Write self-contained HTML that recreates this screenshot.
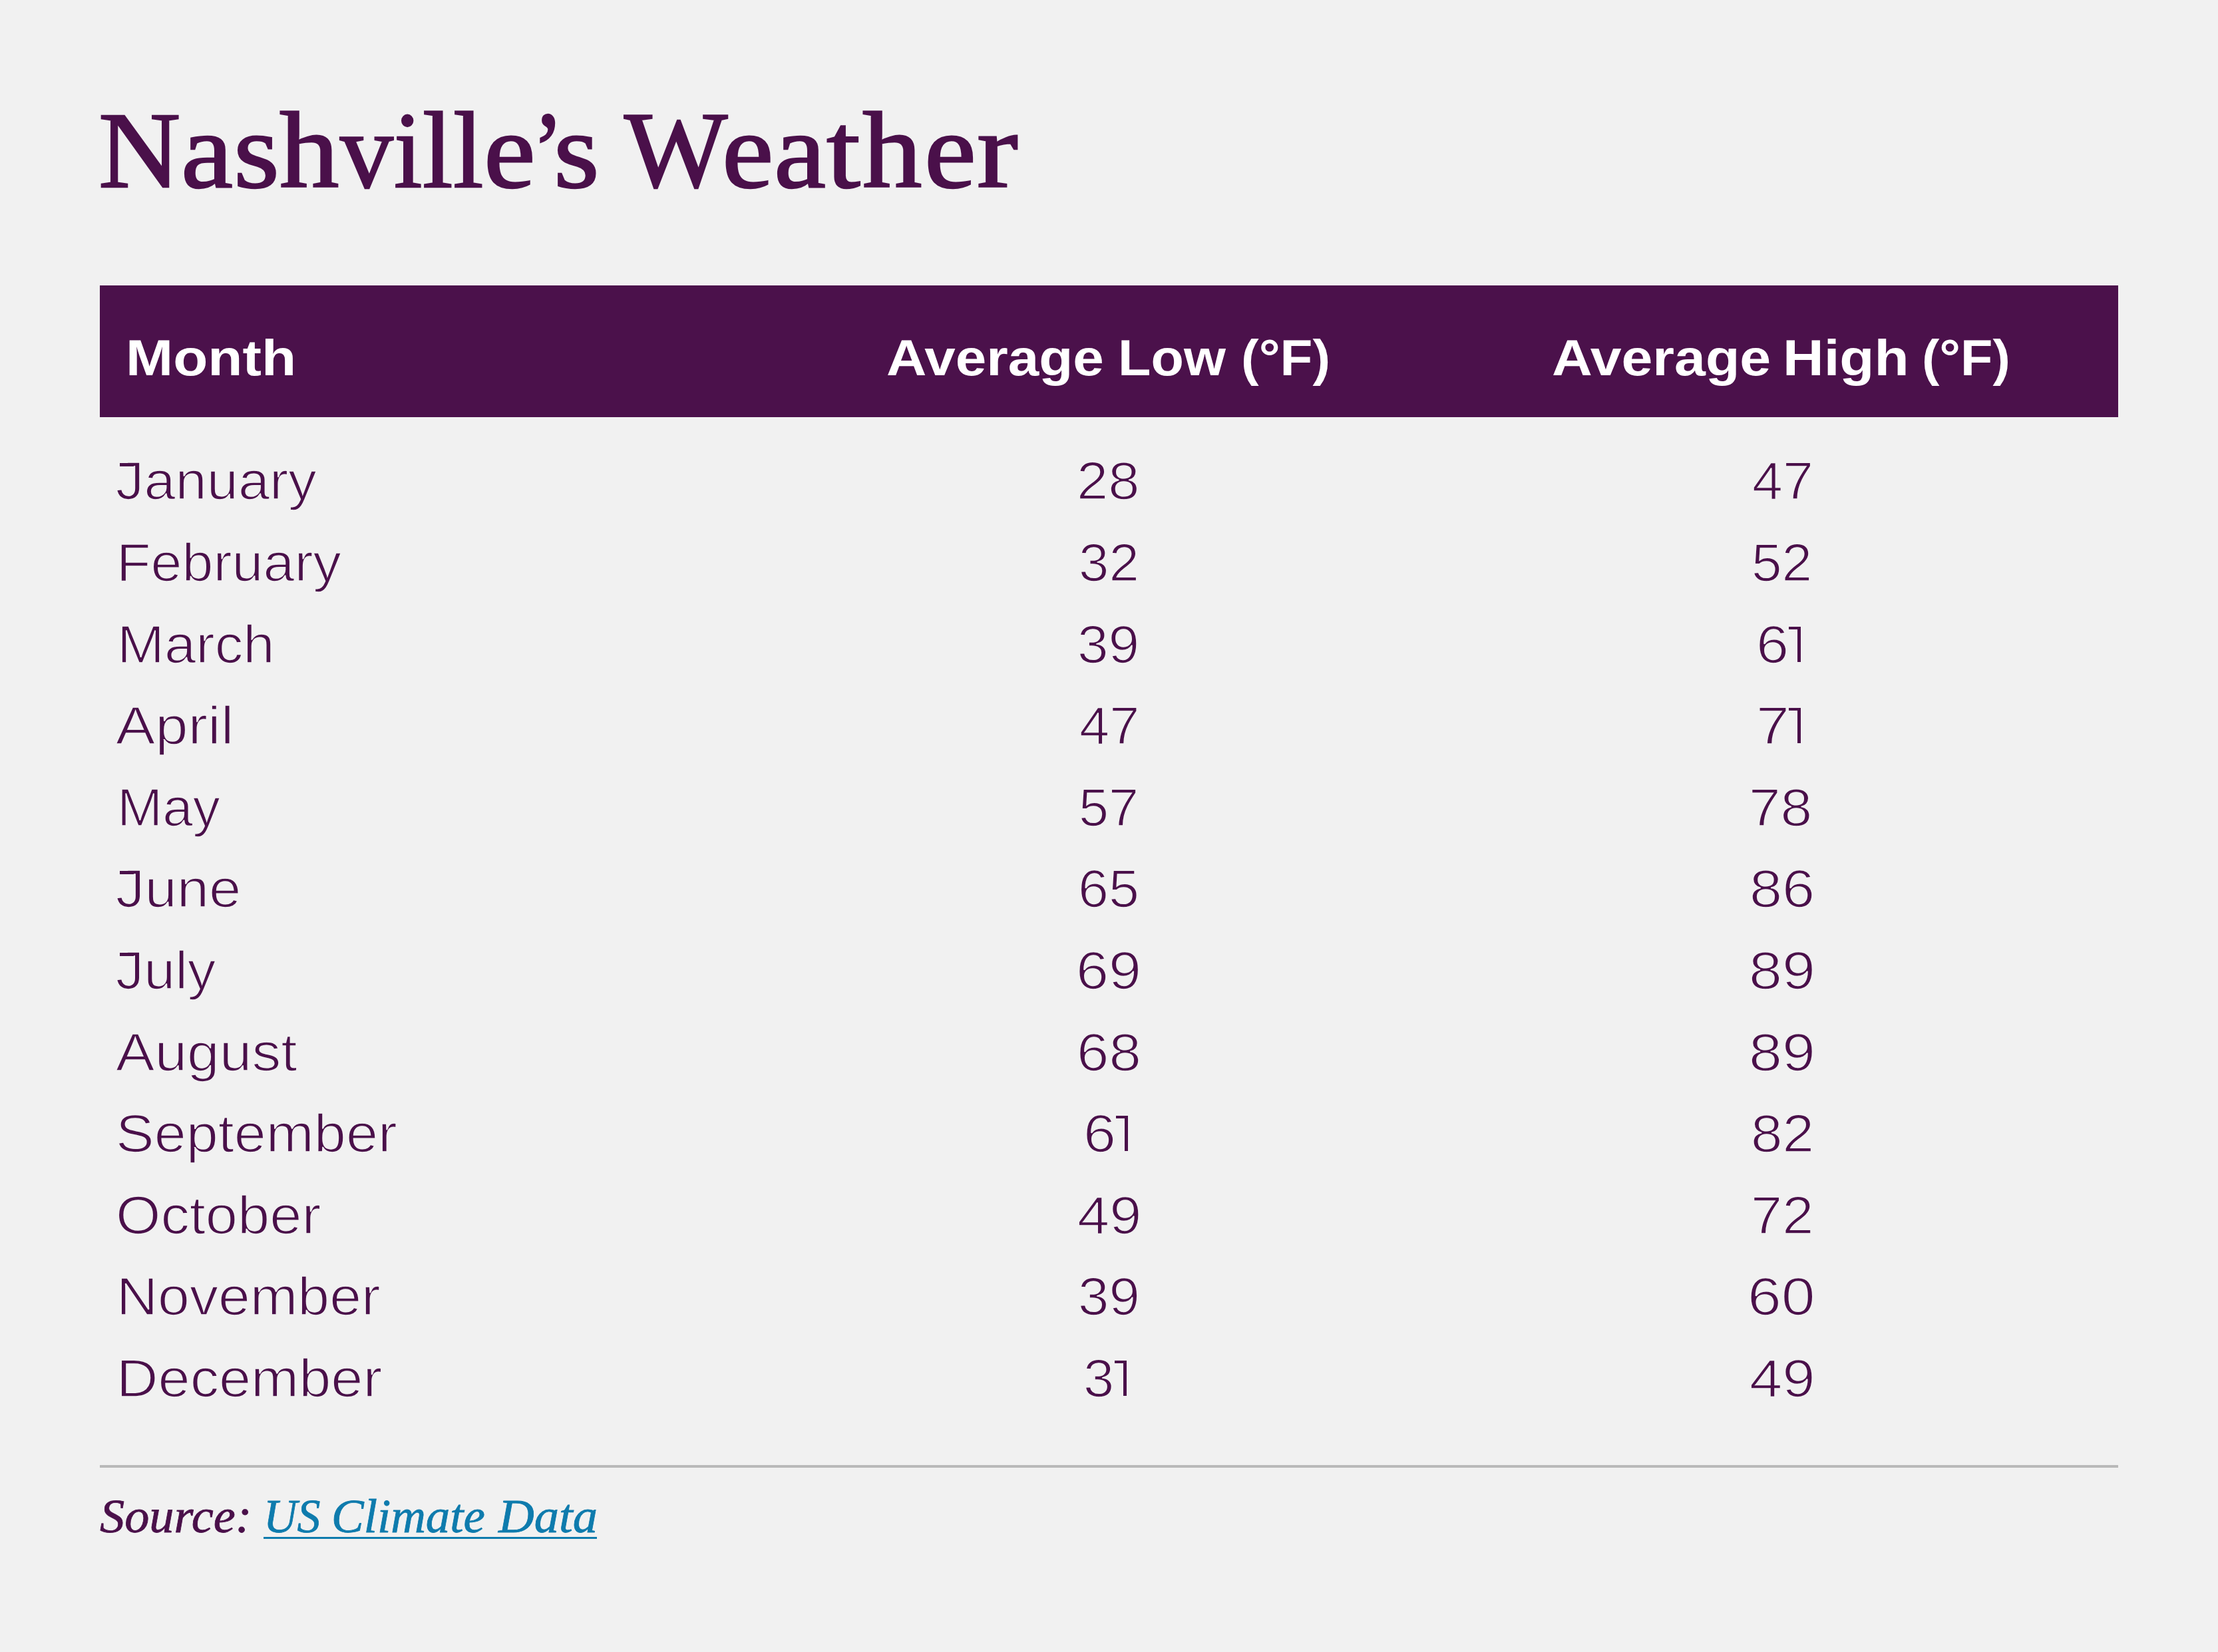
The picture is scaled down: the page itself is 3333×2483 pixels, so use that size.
<!DOCTYPE html>
<html lang="en">
<head>
<meta charset="utf-8">
<title>Nashville’s Weather</title>
<style>
html,body{margin:0;padding:0}
body{width:3333px;height:2483px;background:#f1f1f1;position:relative;overflow:hidden;font-family:"Liberation Sans",sans-serif}
.x{position:absolute;white-space:nowrap;line-height:1;transform-origin:0 0;margin:0;padding:0}
.sans{font-family:"Liberation Sans",sans-serif;font-weight:400}
.sansb{font-family:"Liberation Sans",sans-serif;font-weight:700}
.serif{font-family:"Liberation Serif",serif;font-weight:400}
.serifi{font-family:"Liberation Serif",serif;font-style:italic;font-weight:400}
#bar{position:absolute;left:150px;top:429px;width:3033px;height:198px;background:#4b114b}
#rule{position:absolute;left:150px;top:2202px;width:3033px;height:4px;background:#b9b9b9}
#ul{position:absolute;left:395.7px;top:2310px;width:501.8px;height:3.3px;background:#0e7bad}
a{color:inherit;text-decoration:none}
h1,p{margin:0;padding:0;font-size:0;line-height:0;height:0}
.thead,.tr{height:0;font-size:0;line-height:0}
.jb{position:absolute;left:179.8px;width:21px;height:5.2px;background:#4a104a}
.one{position:absolute;box-sizing:border-box;border-top:4.6px solid #4a104a;border-right:5.6px solid #4a104a;color:transparent;font-size:8px;line-height:1;overflow:hidden}
</style>
</head>
<body>
<div id="bar"></div>
<div id="rule"></div>
<div id="ul"></div>
<h1><span class="x serif" id="t0" style="left:148.35px;top:143.76px;font-size:163.51px;color:#4a104a;transform:scaleX(1.0443);-webkit-text-stroke:2.40px #4a104a;">N</span><span class="x serif" id="t1" style="left:272.16px;top:143.76px;font-size:163.51px;color:#4a104a;transform:scaleX(1.0745);-webkit-text-stroke:2.40px #4a104a;">a</span><span class="x serif" id="t2" style="left:350.53px;top:143.76px;font-size:163.51px;color:#4a104a;transform:scaleX(1.0826);-webkit-text-stroke:2.40px #4a104a;">s</span><span class="x serif" id="t3" style="left:419.95px;top:143.76px;font-size:163.51px;color:#4a104a;transform:scaleX(1.0940);-webkit-text-stroke:2.40px #4a104a;">h</span><span class="x serif" id="t4" style="left:511.46px;top:143.76px;font-size:163.51px;color:#4a104a;transform:scaleX(0.9767);-webkit-text-stroke:2.40px #4a104a;">v</span><span class="x serif" id="t5" style="left:592.10px;top:143.76px;font-size:163.51px;color:#4a104a;transform:scaleX(0.9348);-webkit-text-stroke:2.40px #4a104a;">i</span><span class="x serif" id="t6" style="left:635.00px;top:143.76px;font-size:163.51px;color:#4a104a;transform:scaleX(1.0023);-webkit-text-stroke:2.40px #4a104a;">l</span><span class="x serif" id="t7" style="left:680.50px;top:143.76px;font-size:163.51px;color:#4a104a;transform:scaleX(1.0023);-webkit-text-stroke:2.40px #4a104a;">l</span><span class="x serif" id="t8" style="left:727.13px;top:143.76px;font-size:163.51px;color:#4a104a;transform:scaleX(1.0706);-webkit-text-stroke:2.40px #4a104a;">e</span><span class="x serif" id="t9" style="left:799.91px;top:143.76px;font-size:163.51px;color:#4a104a;transform:scaleX(0.8564);-webkit-text-stroke:2.40px #4a104a;">’</span><span class="x serif" id="t10" style="left:831.64px;top:143.76px;font-size:163.51px;color:#4a104a;transform:scaleX(1.0786);-webkit-text-stroke:2.40px #4a104a;">s</span> <span class="x serif" id="t11" style="left:938.06px;top:143.76px;font-size:163.51px;color:#4a104a;transform:scaleX(1.0073);-webkit-text-stroke:2.40px #4a104a;">W</span><span class="x serif" id="t12" style="left:1084.69px;top:143.76px;font-size:163.51px;color:#4a104a;transform:scaleX(1.0667);-webkit-text-stroke:2.40px #4a104a;">e</span><span class="x serif" id="t13" style="left:1163.22px;top:143.76px;font-size:163.51px;color:#4a104a;transform:scaleX(1.0745);-webkit-text-stroke:2.40px #4a104a;">a</span><span class="x serif" id="t14" style="left:1242.00px;top:143.76px;font-size:163.51px;color:#4a104a;transform:scaleX(1.1183);-webkit-text-stroke:2.40px #4a104a;">t</span><span class="x serif" id="t15" style="left:1296.00px;top:143.76px;font-size:163.51px;color:#4a104a;transform:scaleX(1.0940);-webkit-text-stroke:2.40px #4a104a;">h</span><span class="x serif" id="t16" style="left:1389.18px;top:143.76px;font-size:163.51px;color:#4a104a;transform:scaleX(1.0728);-webkit-text-stroke:2.40px #4a104a;">e</span><span class="x serif" id="t17" style="left:1467.82px;top:143.76px;font-size:163.51px;color:#4a104a;transform:scaleX(1.1321);-webkit-text-stroke:2.40px #4a104a;">r</span></h1>
<div class="thead"><span class="x sansb" id="h1" style="left:189.04px;top:499.21px;font-size:76.89px;color:#ffffff;transform:scaleX(1.1108);">Month</span> <span class="x sansb" id="h2a" style="left:1331.77px;top:499.21px;font-size:76.89px;color:#ffffff;transform:scaleX(1.0871);">Average</span> <span class="x sansb" id="h2b" style="left:1679.91px;top:499.21px;font-size:76.89px;color:#ffffff;transform:scaleX(1.0530);">Low</span> <span class="x sansb" id="h2c" style="left:1864.85px;top:499.21px;font-size:76.89px;color:#ffffff;transform:scaleX(1.0405);">(°F)</span> <span class="x sansb" id="h3a" style="left:2331.85px;top:499.21px;font-size:76.89px;color:#ffffff;transform:scaleX(1.0953);">Average</span> <span class="x sansb" id="h3b" style="left:2678.93px;top:499.21px;font-size:76.89px;color:#ffffff;transform:scaleX(1.1105);">High</span> <span class="x sansb" id="h3c" style="left:2888.34px;top:499.21px;font-size:76.89px;color:#ffffff;transform:scaleX(1.0299);">(°F)</span></div>
<div class="tr"><span class="x sans" id="m0" style="left:173.80px;top:683.42px;font-size:79.07px;color:#4a104a;transform:scaleX(1.0727);-webkit-text-stroke:1.70px #f1f1f1;">January</span><span class="jb" style="top:695.80px"></span> <span class="x sans" id="l0" style="left:1618.22px;top:683.42px;font-size:79.07px;color:#4a104a;transform:scaleX(1.0730);-webkit-text-stroke:1.70px #f1f1f1;">28</span> <span class="x sans" id="g0" style="left:2632.87px;top:683.42px;font-size:79.07px;color:#4a104a;transform:scaleX(1.0446);-webkit-text-stroke:1.70px #f1f1f1;">47</span></div>
<div class="tr"><span class="x sans" id="m1" style="left:175.40px;top:806.02px;font-size:79.07px;color:#4a104a;transform:scaleX(1.0675);-webkit-text-stroke:1.70px #f1f1f1;">February</span> <span class="x sans" id="l1" style="left:1620.85px;top:806.02px;font-size:79.07px;color:#4a104a;transform:scaleX(1.0325);-webkit-text-stroke:1.70px #f1f1f1;">32</span> <span class="x sans" id="g1" style="left:2631.85px;top:806.02px;font-size:79.07px;color:#4a104a;transform:scaleX(1.0375);-webkit-text-stroke:1.70px #f1f1f1;">52</span></div>
<div class="tr"><span class="x sans" id="m2" style="left:176.14px;top:928.62px;font-size:79.07px;color:#4a104a;transform:scaleX(1.0776);-webkit-text-stroke:1.70px #f1f1f1;">March</span> <span class="x sans" id="l2" style="left:1619.20px;top:928.62px;font-size:79.07px;color:#4a104a;transform:scaleX(1.0602);-webkit-text-stroke:1.70px #f1f1f1;">39</span> <span class="x sans" id="g2_0" style="left:2639.38px;top:928.62px;font-size:79.07px;color:#4a104a;transform:scaleX(1.1150);-webkit-text-stroke:1.70px #f1f1f1;">6</span><span class="one" id="g2_1" style="left:2688.00px;top:941.70px;width:18.20px;height:53.00px">1</span></div>
<div class="tr"><span class="x sans" id="m3" style="left:173.78px;top:1051.22px;font-size:79.07px;color:#4a104a;transform:scaleX(1.1218);-webkit-text-stroke:1.70px #f1f1f1;">April</span> <span class="x sans" id="l3" style="left:1621.94px;top:1051.22px;font-size:79.07px;color:#4a104a;transform:scaleX(1.0268);-webkit-text-stroke:1.70px #f1f1f1;">47</span> <span class="x sans" id="g3_0" style="left:2639.31px;top:1051.22px;font-size:79.07px;color:#4a104a;transform:scaleX(1.1342);-webkit-text-stroke:1.70px #f1f1f1;">7</span><span class="one" id="g3_1" style="left:2688.00px;top:1064.30px;width:18.20px;height:53.00px">1</span></div>
<div class="tr"><span class="x sans" id="m4" style="left:176.42px;top:1173.82px;font-size:79.07px;color:#4a104a;transform:scaleX(1.0367);-webkit-text-stroke:1.70px #f1f1f1;">May</span> <span class="x sans" id="l4" style="left:1621.38px;top:1173.82px;font-size:79.07px;color:#4a104a;transform:scaleX(1.0253);-webkit-text-stroke:1.70px #f1f1f1;">57</span> <span class="x sans" id="g4" style="left:2628.09px;top:1173.82px;font-size:79.07px;color:#4a104a;transform:scaleX(1.0828);-webkit-text-stroke:1.70px #f1f1f1;">78</span></div>
<div class="tr"><span class="x sans" id="m5" style="left:173.73px;top:1296.42px;font-size:79.07px;color:#4a104a;transform:scaleX(1.0982);-webkit-text-stroke:1.70px #f1f1f1;">June</span><span class="jb" style="top:1308.80px"></span> <span class="x sans" id="l5" style="left:1620.36px;top:1296.42px;font-size:79.07px;color:#4a104a;transform:scaleX(1.0449);-webkit-text-stroke:1.70px #f1f1f1;">65</span> <span class="x sans" id="g5" style="left:2629.03px;top:1296.42px;font-size:79.07px;color:#4a104a;transform:scaleX(1.1162);-webkit-text-stroke:1.70px #f1f1f1;">86</span></div>
<div class="tr"><span class="x sans" id="m6" style="left:173.85px;top:1419.02px;font-size:79.07px;color:#4a104a;transform:scaleX(1.0676);-webkit-text-stroke:1.70px #f1f1f1;">July</span><span class="jb" style="top:1431.80px"></span> <span class="x sans" id="l6" style="left:1617.43px;top:1419.02px;font-size:79.07px;color:#4a104a;transform:scaleX(1.1139);-webkit-text-stroke:1.70px #f1f1f1;">69</span> <span class="x sans" id="g6" style="left:2627.98px;top:1419.02px;font-size:79.07px;color:#4a104a;transform:scaleX(1.1354);-webkit-text-stroke:1.70px #f1f1f1;">89</span></div>
<div class="tr"><span class="x sans" id="m7" style="left:173.81px;top:1541.62px;font-size:79.07px;color:#4a104a;transform:scaleX(1.1071);-webkit-text-stroke:1.70px #f1f1f1;">August</span> <span class="x sans" id="l7" style="left:1617.50px;top:1541.62px;font-size:79.07px;color:#4a104a;transform:scaleX(1.1005);-webkit-text-stroke:1.70px #f1f1f1;">68</span> <span class="x sans" id="g7" style="left:2627.98px;top:1541.62px;font-size:79.07px;color:#4a104a;transform:scaleX(1.1354);-webkit-text-stroke:1.70px #f1f1f1;">89</span></div>
<div class="tr"><span class="x sans" id="m8" style="left:174.05px;top:1664.22px;font-size:79.07px;color:#4a104a;transform:scaleX(1.0931);-webkit-text-stroke:1.70px #f1f1f1;">September</span> <span class="x sans" id="l8_0" style="left:1628.38px;top:1664.22px;font-size:79.07px;color:#4a104a;transform:scaleX(1.1111);-webkit-text-stroke:1.70px #f1f1f1;">6</span><span class="one" id="l8_1" style="left:1676.70px;top:1677.30px;width:18.00px;height:53.00px">1</span> <span class="x sans" id="g8" style="left:2631.14px;top:1664.22px;font-size:79.07px;color:#4a104a;transform:scaleX(1.0807);-webkit-text-stroke:1.70px #f1f1f1;">82</span></div>
<div class="tr"><span class="x sans" id="m9" style="left:173.96px;top:1786.82px;font-size:79.07px;color:#4a104a;transform:scaleX(1.0962);-webkit-text-stroke:1.70px #f1f1f1;">October</span> <span class="x sans" id="l9" style="left:1618.76px;top:1786.82px;font-size:79.07px;color:#4a104a;transform:scaleX(1.0946);-webkit-text-stroke:1.70px #f1f1f1;">49</span> <span class="x sans" id="g9" style="left:2630.61px;top:1786.82px;font-size:79.07px;color:#4a104a;transform:scaleX(1.0718);-webkit-text-stroke:1.70px #f1f1f1;">72</span></div>
<div class="tr"><span class="x sans" id="m10" style="left:175.34px;top:1909.42px;font-size:79.07px;color:#4a104a;transform:scaleX(1.0875);-webkit-text-stroke:1.70px #f1f1f1;">November</span> <span class="x sans" id="l10" style="left:1619.76px;top:1909.42px;font-size:79.07px;color:#4a104a;transform:scaleX(1.0553);-webkit-text-stroke:1.70px #f1f1f1;">39</span> <span class="x sans" id="g10" style="left:2626.38px;top:1909.42px;font-size:79.07px;color:#4a104a;transform:scaleX(1.1560);-webkit-text-stroke:1.70px #f1f1f1;">60</span></div>
<div class="tr"><span class="x sans" id="m11" style="left:175.34px;top:2032.02px;font-size:79.07px;color:#4a104a;transform:scaleX(1.0947);-webkit-text-stroke:1.70px #f1f1f1;">December</span> <span class="x sans" id="l11_0" style="left:1628.23px;top:2032.02px;font-size:79.07px;color:#4a104a;transform:scaleX(1.0515);-webkit-text-stroke:1.70px #f1f1f1;">3</span><span class="one" id="l11_1" style="left:1674.70px;top:2045.10px;width:18.10px;height:53.00px">1</span> <span class="x sans" id="g11" style="left:2628.70px;top:2032.02px;font-size:79.07px;color:#4a104a;transform:scaleX(1.1221);-webkit-text-stroke:1.70px #f1f1f1;">49</span></div>
<p class="src"><span class="x serifi" id="s1" style="left:150.00px;top:2243.29px;font-size:71.30px;color:#4a104a;transform:scaleX(1.0426);-webkit-text-stroke:0.80px #4a104a;">Source:</span> <a href="#"><span class="x serifi" id="s2a" style="left:395.86px;top:2243.29px;font-size:71.30px;color:#0e7bad;transform:scaleX(0.9803);-webkit-text-stroke:0.80px #0e7bad;">US</span> <span class="x serifi" id="s2b" style="left:498.42px;top:2243.29px;font-size:71.30px;color:#0e7bad;transform:scaleX(1.0226);-webkit-text-stroke:0.80px #0e7bad;">Climate</span> <span class="x serifi" id="s2c" style="left:748.56px;top:2243.29px;font-size:71.30px;color:#0e7bad;transform:scaleX(1.0438);-webkit-text-stroke:0.80px #0e7bad;">Data</span></a></p>
</body>
</html>
